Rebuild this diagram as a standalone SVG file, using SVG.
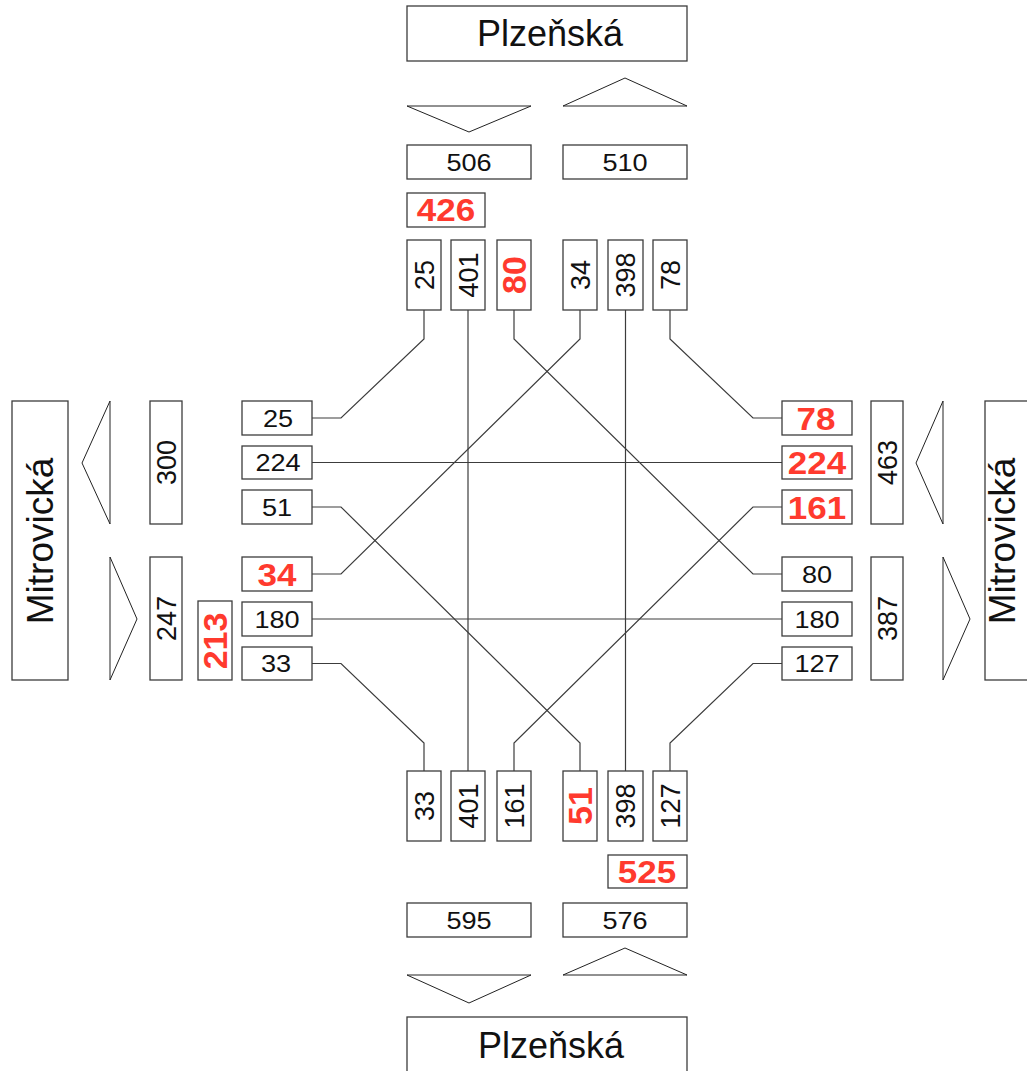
<svg xmlns="http://www.w3.org/2000/svg" width="1027" height="1071" viewBox="0 0 1027 1071">
  <style>
    .box { fill: #ffffff; stroke: #3c3c3c; stroke-width: 1.3; }
    .tri { fill: none; stroke: #222222; stroke-width: 1; stroke-linejoin: miter; }
    .wire { fill: none; stroke: #3c3c3c; stroke-width: 1.2; }
    text { font-family: "Liberation Sans", Arial, sans-serif; text-anchor: middle; }
    .n { font-size: 24px; fill: #111111; }
    .nv { font-size: 27px; fill: #111111; }
    .r { font-size: 31px; font-weight: bold; fill: #ff3a2e; }
    .rv { font-size: 34px; font-weight: bold; fill: #ff3a2e; }
    .street { font-size: 36px; fill: #111111; }
    .streetv { font-size: 37px; fill: #111111; }
  </style>
  <rect width="1027" height="1071" fill="#ffffff"/>

  <!-- connectors -->
  <g id="connectors">
    <path class="wire" d="M424,310 V339 L341,418 H312"/>
    <path class="wire" d="M468,310 V771"/>
    <path class="wire" d="M514,310 V339 L753,574 H782"/>
    <path class="wire" d="M580,310 V339 L341,574 H312"/>
    <path class="wire" d="M625.5,310 V771"/>
    <path class="wire" d="M670,310 V339 L753,418 H782"/>
    <path class="wire" d="M312,462.5 H782"/>
    <path class="wire" d="M312,507 H341 L580,743 V771"/>
    <path class="wire" d="M312,619 H782"/>
    <path class="wire" d="M312,663.5 H341 L424,743 V771"/>
    <path class="wire" d="M782,507 H753 L514,743 V771"/>
    <path class="wire" d="M782,663.5 H753 L670,743 V771"/>
  </g>

  <!-- north approach -->
  <g id="north-street">
    <rect class="box" x="407" y="6" width="280" height="55"/>
    <text class="street" x="550" y="46">Plzeňská</text>
  </g>
  <g id="north-arrows">
    <polygon class="tri" points="407,106 531,106 469,132"/>
    <polygon class="tri" points="563,106 687,106 625,78"/>
  </g>
  <g id="north-out">
    <rect class="box" x="407" y="145" width="124" height="34"/>
    <text class="n" transform="translate(469 171) scale(1.13 1)">506</text>
  </g>
  <g id="north-in">
    <rect class="box" x="563" y="145" width="124" height="34"/>
    <text class="n" transform="translate(625 171) scale(1.13 1)">510</text>
  </g>
  <g id="north-sum">
    <rect class="box" x="407" y="193" width="78" height="34"/>
    <text class="r" transform="translate(446 221) scale(1.13 1)">426</text>
  </g>
  <g id="n-25">
    <rect class="box" x="407" y="240" width="34" height="70"/>
    <text class="nv" transform="translate(433.7 275) rotate(-90)">25</text>
  </g>
  <g id="n-401">
    <rect class="box" x="451" y="240" width="34" height="70"/>
    <text class="nv" transform="translate(477.7 275) rotate(-90)">401</text>
  </g>
  <g id="n-80">
    <rect class="box" x="497" y="240" width="34" height="70"/>
    <text class="rv" transform="translate(526.2 275) rotate(-90)">80</text>
  </g>
  <g id="n-34">
    <rect class="box" x="563" y="240" width="34" height="70"/>
    <text class="nv" transform="translate(589.7 275) rotate(-90)">34</text>
  </g>
  <g id="n-398">
    <rect class="box" x="608" y="240" width="35" height="70"/>
    <text class="nv" transform="translate(635.2 275) rotate(-90)">398</text>
  </g>
  <g id="n-78">
    <rect class="box" x="653" y="240" width="34" height="70"/>
    <text class="nv" transform="translate(679.7 275) rotate(-90)">78</text>
  </g>

  <!-- west approach -->
  <g id="west-street">
    <rect class="box" x="12" y="401" width="56" height="279"/>
    <text class="streetv" transform="translate(53 541) rotate(-90)">Mitrovická</text>
  </g>
  <g id="west-arrows">
    <polygon class="tri" points="110,401 82,463 110,524"/>
    <polygon class="tri" points="110,557 137,619 110,680"/>
  </g>
  <g id="west-out">
    <rect class="box" x="150" y="401" width="32" height="123"/>
    <text class="nv" transform="translate(175.7 462.5) rotate(-90)">300</text>
  </g>
  <g id="west-in">
    <rect class="box" x="150" y="557" width="32" height="123"/>
    <text class="nv" transform="translate(175.7 618.5) rotate(-90)">247</text>
  </g>
  <g id="west-sum">
    <rect class="box" x="198" y="601" width="34" height="79"/>
    <text class="rv" transform="translate(227.2 641) rotate(-90)">213</text>
  </g>
  <g id="w-25">
    <rect class="box" x="242" y="401" width="70" height="34"/>
    <text class="n" transform="translate(278 426.6) scale(1.13 1)">25</text>
  </g>
  <g id="w-224">
    <rect class="box" x="242" y="446" width="70" height="33"/>
    <text class="n" transform="translate(278 471) scale(1.13 1)">224</text>
  </g>
  <g id="w-51">
    <rect class="box" x="242" y="490" width="70" height="34"/>
    <text class="n" transform="translate(277 515.6) scale(1.13 1)">51</text>
  </g>
  <g id="w-34">
    <rect class="box" x="242" y="557" width="70" height="34"/>
    <text class="r" transform="translate(277 586) scale(1.13 1)">34</text>
  </g>
  <g id="w-180">
    <rect class="box" x="242" y="602" width="70" height="34"/>
    <text class="n" transform="translate(277 627.6) scale(1.13 1)">180</text>
  </g>
  <g id="w-33">
    <rect class="box" x="242" y="647" width="70" height="33"/>
    <text class="n" transform="translate(276 672) scale(1.13 1)">33</text>
  </g>

  <!-- east approach -->
  <g id="east-street">
    <rect class="box" x="985" y="401" width="60" height="279"/>
    <text class="streetv" transform="translate(1015 541) rotate(-90)">Mitrovická</text>
  </g>
  <g id="east-arrows">
    <polygon class="tri" points="943,401 916,463 943,524"/>
    <polygon class="tri" points="943,557 970,619 943,680"/>
  </g>
  <g id="east-in">
    <rect class="box" x="871" y="401" width="32" height="123"/>
    <text class="nv" transform="translate(896.7 462.5) rotate(-90)">463</text>
  </g>
  <g id="east-out">
    <rect class="box" x="871" y="557" width="32" height="123"/>
    <text class="nv" transform="translate(896.7 618.5) rotate(-90)">387</text>
  </g>
  <g id="e-78">
    <rect class="box" x="782" y="401" width="70" height="34"/>
    <text class="r" transform="translate(816 430) scale(1.13 1)">78</text>
  </g>
  <g id="e-224">
    <rect class="box" x="782" y="446" width="70" height="33"/>
    <text class="r" transform="translate(817 474) scale(1.13 1)">224</text>
  </g>
  <g id="e-161">
    <rect class="box" x="782" y="490" width="70" height="34"/>
    <text class="r" transform="translate(817 518.5) scale(1.13 1)">161</text>
  </g>
  <g id="e-80">
    <rect class="box" x="782" y="557" width="70" height="34"/>
    <text class="n" transform="translate(817 582.6) scale(1.13 1)">80</text>
  </g>
  <g id="e-180">
    <rect class="box" x="782" y="602" width="70" height="34"/>
    <text class="n" transform="translate(817 627.6) scale(1.13 1)">180</text>
  </g>
  <g id="e-127">
    <rect class="box" x="782" y="647" width="70" height="33"/>
    <text class="n" transform="translate(817 672) scale(1.13 1)">127</text>
  </g>

  <!-- south approach -->
  <g id="s-33">
    <rect class="box" x="407" y="771" width="34" height="70"/>
    <text class="nv" transform="translate(433.7 806) rotate(-90)">33</text>
  </g>
  <g id="s-401">
    <rect class="box" x="451" y="771" width="34" height="70"/>
    <text class="nv" transform="translate(477.7 806) rotate(-90)">401</text>
  </g>
  <g id="s-161">
    <rect class="box" x="497" y="771" width="34" height="70"/>
    <text class="nv" transform="translate(523.7 806) rotate(-90)">161</text>
  </g>
  <g id="s-51">
    <rect class="box" x="563" y="771" width="34" height="70"/>
    <text class="rv" transform="translate(592.2 806) rotate(-90)">51</text>
  </g>
  <g id="s-398">
    <rect class="box" x="608" y="771" width="35" height="70"/>
    <text class="nv" transform="translate(635.2 806) rotate(-90)">398</text>
  </g>
  <g id="s-127">
    <rect class="box" x="653" y="771" width="34" height="70"/>
    <text class="nv" transform="translate(679.7 806) rotate(-90)">127</text>
  </g>
  <g id="south-sum">
    <rect class="box" x="608" y="855" width="79" height="33"/>
    <text class="r" transform="translate(647 882.5) scale(1.13 1)">525</text>
  </g>
  <g id="south-out">
    <rect class="box" x="407" y="903" width="124" height="34"/>
    <text class="n" transform="translate(469 929) scale(1.13 1)">595</text>
  </g>
  <g id="south-in">
    <rect class="box" x="563" y="903" width="124" height="34"/>
    <text class="n" transform="translate(625 929) scale(1.13 1)">576</text>
  </g>
  <g id="south-arrows">
    <polygon class="tri" points="407,975 531,975 469,1003"/>
    <polygon class="tri" points="563,975 687,975 625,948"/>
  </g>
  <g id="south-street">
    <rect class="box" x="407" y="1017" width="280" height="60"/>
    <text class="street" x="551" y="1058">Plzeňská</text>
  </g>
</svg>
